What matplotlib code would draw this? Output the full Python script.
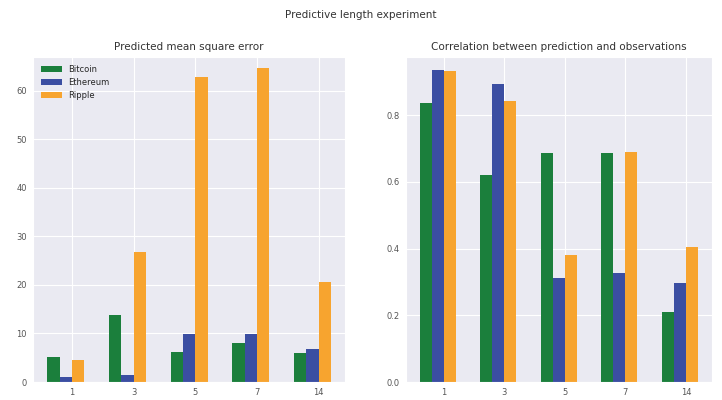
import numpy as np
import matplotlib
matplotlib.use('Agg')
import matplotlib.pyplot as plt
import seaborn as sns

# prediction lengths (days) and results per currency
lengths = ['1', '3', '5', '7', '14']
currencies = ['Bitcoin', 'Ethereum', 'Ripple']
colors = ['#1b7f3c', '#3b4ea2', '#f7a42f']

mse_bitcoin = [5.2, 13.8, 6.2, 8.0, 6.0]
mse_ethereum = [1.0, 1.4, 9.9, 9.9, 6.8]
mse_ripple = [4.5, 26.8, 62.9, 64.7, 20.6]

corr_bitcoin = [0.836, 0.621, 0.687, 0.687, 0.209]
corr_ethereum = [0.937, 0.893, 0.313, 0.328, 0.296]
corr_ripple = [0.934, 0.842, 0.382, 0.690, 0.406]

sns.set_style('darkgrid')
plt.rcParams['font.family'] = ['DejaVu Sans']

fig = plt.figure(figsize=(7.22, 4.0), dpi=100)
ax1 = fig.add_axes([0.046, 0.045, 0.432, 0.8125])
ax2 = fig.add_axes([0.562, 0.045, 0.424, 0.8125])

x = np.arange(len(lengths))
w = 0.2
offsets = [-0.3, -0.1, 0.1]

for ax, series in [(ax1, [mse_bitcoin, mse_ethereum, mse_ripple]),
                   (ax2, [corr_bitcoin, corr_ethereum, corr_ripple])]:
    for vals, off, c, name in zip(series, offsets, colors, currencies):
        ax.bar(x + off, vals, width=w, color=c, label=name, linewidth=0)
    ax.set_xticks(x)
    ax.set_xticklabels(lengths)
    ax.tick_params(labelsize=6, colors='#555555', pad=1)

ax1.set_ylim(0, 67)
ax1.set_yticks([0, 10, 20, 30, 40, 50, 60])
ax2.set_ylim(0, 0.975)
ax2.set_yticks([0.0, 0.2, 0.4, 0.6, 0.8])

ax1.set_title('Predicted mean square error', fontsize=7.5, color='#333333', pad=5)
ax2.set_title('Correlation between prediction and observations', fontsize=7.5,
              color='#333333', pad=5)
ax1.legend(loc='upper left', fontsize=6, frameon=False, handlelength=2.5)
fig.suptitle('Predictive length experiment', fontsize=7.5, color='#333333', y=0.975)

fig.savefig('out.png', dpi=100)
